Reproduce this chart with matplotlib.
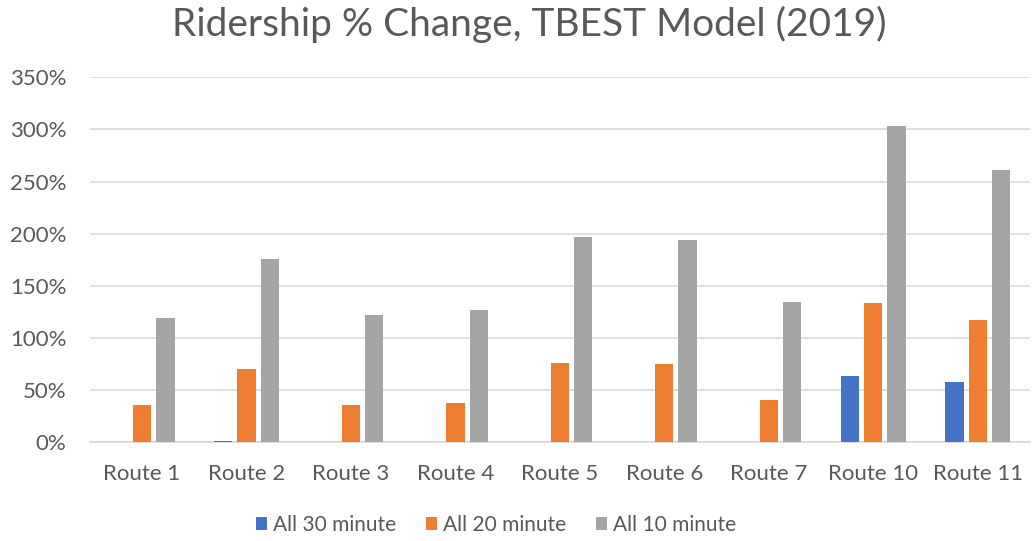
import matplotlib
matplotlib.use("Agg")
import matplotlib.pyplot as plt
import numpy as np
from matplotlib.ticker import FuncFormatter

routes = ["Route 1", "Route 2", "Route 3", "Route 4", "Route 5",
          "Route 6", "Route 7", "Route 10", "Route 11"]
all_30 = [0, 1, 0, 0, 0, 0, 0, 63.5, 57.5]
all_20 = [35.5, 70, 35.5, 37.5, 76, 75, 40.5, 134, 117]
all_10 = [119, 175.5, 122, 126.5, 196.5, 194, 134.5, 303, 261]
series_names = ["All 30 minute", "All 20 minute", "All 10 minute"]
colors = ["#4472C4", "#ED7D31", "#A5A5A5"]

plt.rcParams["font.family"] = ["Lato", "DejaVu Sans"]
text_color = "#595959"

fig = plt.figure(figsize=(10.33, 5.41), dpi=100)
ax = fig.add_axes([0.087, 0.1825, 0.91, 0.6745])

x = np.arange(len(routes))
width = 0.175
step = 0.223
for i, (vals, name, c) in enumerate(zip([all_30, all_20, all_10], series_names, colors)):
    ax.bar(x + (i - 1) * step, vals, width=width, color=c, label=name, zorder=3)

ax.set_xlim(-0.5, len(routes) - 0.5)
ax.set_ylim(0, 350)
ax.set_yticks(np.arange(0, 351, 50))
ax.yaxis.set_major_formatter(FuncFormatter(lambda v, p: f"{int(v)}%"))
ax.grid(axis="y", color="#D9D9D9", linewidth=1.2, zorder=0)
ax.set_xticks(x)
ax.set_xticklabels(routes)
for s in ["top", "right", "left"]:
    ax.spines[s].set_visible(False)
ax.spines["bottom"].set_color("#D9D9D9")
ax.spines["bottom"].set_linewidth(1.2)
ax.tick_params(axis="both", length=0, labelsize=16, colors=text_color)
ax.tick_params(axis="x", pad=16)
ax.tick_params(axis="y", pad=17)

fig.suptitle("Ridership % Change, TBEST Model (2019)", fontsize=28,
             color=text_color, x=0.512, y=0.99)

fig.legend(*ax.get_legend_handles_labels(), loc="center", bbox_to_anchor=(0.48, 0.03),
           ncol=3, frameon=False, fontsize=15, labelcolor=text_color,
           handlelength=0.53, handleheight=0.53, handletextpad=0.29,
           columnspacing=1.44)

fig.savefig("out.png", dpi=100, facecolor="white")
